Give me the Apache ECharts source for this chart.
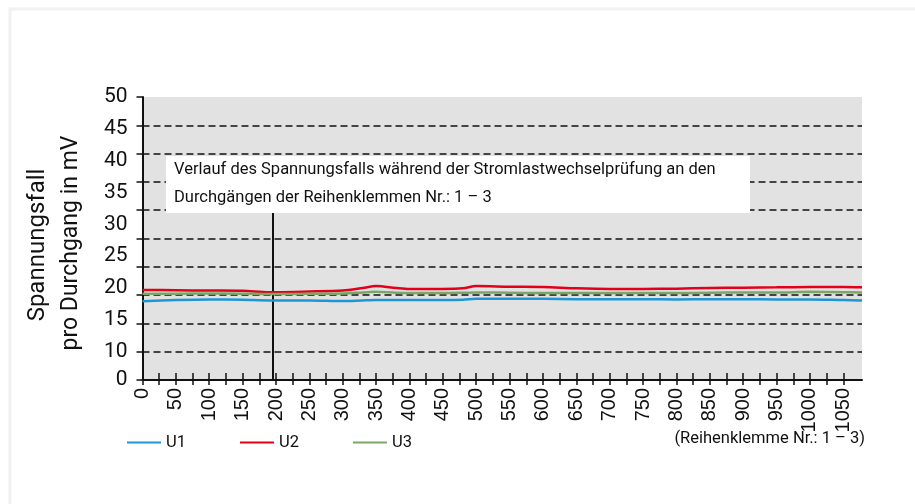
<!DOCTYPE html>
<html><head><meta charset="utf-8">
<script src="https://cdn.jsdelivr.net/npm/echarts@6/dist/echarts.min.js"></script>
<style>html,body{margin:0;padding:0;background:#fff}#c{width:915px;height:504px}</style>
</head><body><div id="c"></div>
<script>
const xValues = [0,50,100,150,190,200,250,300,330,350,380,400,450,480,500,550,600,650,700,750,800,850,900,950,1000,1050,1078];
const u1 = [17.9,18.1,18.2,18.15,18.05,18.05,18.05,17.95,18.05,18.1,18.1,18.1,18.1,18.15,18.3,18.3,18.3,18.25,18.25,18.25,18.2,18.25,18.25,18.2,18.2,18.1,18.05];
const u2 = [19.7,19.65,19.6,19.55,19.35,19.35,19.45,19.6,20.0,20.3,20.0,19.85,19.85,19.95,20.3,20.2,20.15,19.95,19.85,19.85,19.9,20.0,20.05,20.1,20.15,20.15,20.1];
const u3 = [19.1,19.1,19.15,19.1,19.05,19.05,19.1,19.15,19.3,19.4,19.25,19.2,19.2,19.25,19.3,19.25,19.2,19.2,19.2,19.2,19.2,19.25,19.3,19.3,19.4,19.35,19.3];
const yLabelValues = [5.55,10,15,20,25,30,35,40,45,50];
const xLabelValues = [0,50,100,150,200,250,300,350,400,450,500,550,600,650,700,750,800,850,900,950,1000,1050];
const xTickValues = [];
for (let v = 0; v <= 1050; v += 25) xTickValues.push(v);
const markerX = 195;
const seriesNames = ['U1','U2','U3'];
const colors = ['#1e96d6','#e2001a','#7ba766'];
const noteLines = ['Verlauf des Spannungsfalls während der Stromlastwechselprüfung an den','Durchgängen der Reihenklemmen Nr.: 1 – 3'];
const yTitle = ['Spannungsfall','pro Durchgang in mV'];
const footNote = '(Reihenklemme Nr.: 1 – 3)';

const narrow = "Roboto,sans-serif";
const pair = arr => xValues.map((x,i)=>[x,arr[i]]);
const chart = echarts.init(document.getElementById('c'), null, {renderer:'canvas'});
const gL = 142.5, gT = 97, gR = 53, gB = 124;
const ser = [u1,u2,u3].map((d,i)=>({
  name: seriesNames[i], type:'line', data: pair(d), xAxisIndex:0, yAxisIndex:0,
  smooth:0.3, symbol:'none', lineStyle:{width:2.5,color:colors[i]}, itemStyle:{color:colors[i]}, z:5
}));
ser[0].markLine = {silent:true, symbol:'none', label:{show:false},
  lineStyle:{color:'#111', width:2, type:'solid'},
  data:[[{coord:[markerX,5.55]},{coord:[markerX,33]}]]};
chart.setOption({
  animation:false,
  graphic:[
    {type:'rect', shape:{x:10,y:9,width:920,height:520}, style:{fill:'none',stroke:'#f1f1f1',lineWidth:3}, z:0},
    {type:'rect', shape:{x:gL,y:gT,width:915-gR-gL,height:504-gB-gT}, style:{fill:'#e2e2e2'}, z:-1, silent:true},
    {type:'rect', shape:{x:166,y:156,width:584,height:57}, style:{fill:'#fff'}, z:100},
    {type:'text', x:174, y:170, style:{text:noteLines[0], font:"16.5px "+narrow, fill:'#111', textVerticalAlign:'middle'}, z:101},
    {type:'text', x:174, y:198, style:{text:noteLines[1], font:"16.5px "+narrow, fill:'#111', textVerticalAlign:'middle'}, z:101},
    {type:'text', x:865, y:439, style:{text:footNote, font:"16.5px "+narrow, fill:'#111', textAlign:'right', textVerticalAlign:'middle'}, z:101},
    {type:'text', x:38, y:245, rotation:Math.PI/2, style:{text:yTitle[0], font:"24px "+narrow, fill:'#111', textAlign:'center', textVerticalAlign:'middle'}, z:101},
    {type:'text', x:71, y:243, rotation:Math.PI/2, style:{text:yTitle[1], font:"23px "+narrow, fill:'#111', textAlign:'center', textVerticalAlign:'middle'}, z:101}
  ],
  legend:{left:122, top:429, icon:'rect', itemWidth:34, itemHeight:2, itemGap:54,
    textStyle:{fontSize:16.5, fontFamily:narrow, color:'#111'}, data:seriesNames},
  grid:{left:gL, top:gT, right:gR, bottom:gB, containLabel:false},
  xAxis:[
    {type:'value', min:0, max:1078, position:'bottom',
      axisLine:{show:true, lineStyle:{color:'#111', width:2}},
      axisTick:{show:true, customValues:xTickValues, length:5, lineStyle:{color:'#111',width:1.5}},
      axisLabel:{customValues:xLabelValues, rotate:90, margin:8, fontSize:20, fontFamily:"'Liberation Sans',Arial,sans-serif", color:'#111',
        formatter: v => String(v)},
      splitLine:{show:false}},
    {type:'value', min:0, max:1078, position:'bottom',
      axisLine:{show:false},
      axisTick:{show:true, inside:true, customValues:xTickValues, length:7, lineStyle:{color:'#111',width:1.5}},
      axisLabel:{show:false}, splitLine:{show:false}}
  ],
  yAxis:[
    {type:'value', min:5.55, max:50, position:'left',
      axisLine:{show:false}, axisTick:{show:false}, splitLine:{show:false},
      axisLabel:{customValues:yLabelValues, margin:15, fontSize:21, fontFamily:narrow, color:'#111',
        formatter: v => v < 6 ? '0' : String(v)}},
    {type:'value', min:0, max:50, interval:5, position:'left',
      axisLine:{show:true, lineStyle:{color:'#111', width:2}},
      axisTick:{show:true, length:6, lineStyle:{color:'#111', width:1.5}},
      axisLabel:{show:false},
      splitLine:{show:true, showMinLine:false, showMaxLine:false, lineStyle:{color:'#111', width:1.5, type:[7,4]}}}
  ],
  series: ser
});
</script></body></html>
